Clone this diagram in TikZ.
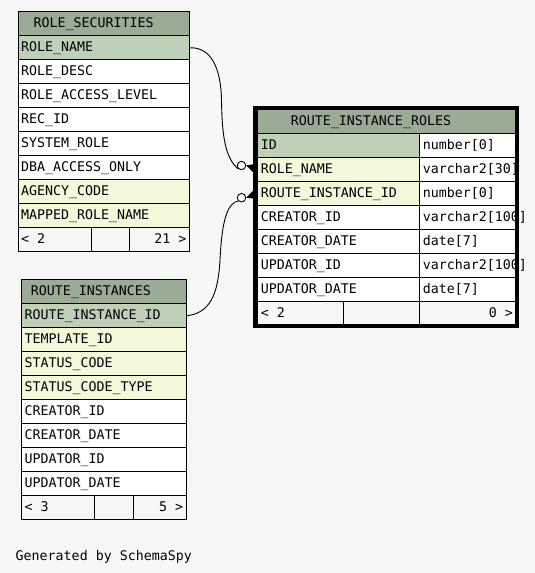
\documentclass[tikz,border=0pt]{standalone}
\usepackage{fontspec}
\newfontfamily\dbfontfam{DejaVu Sans Mono}
\definecolor{hdr}{HTML}{9BAB96}
\definecolor{pk}{HTML}{BED1B8}
\definecolor{fk}{HTML}{F4F7DA}
\definecolor{bgc}{HTML}{F7F7F7}
\tikzset{
  cell/.style={draw=black, line width=1pt, anchor=north west, inner xsep=3pt, inner ysep=0pt,
    minimum height=24pt, text height=9.7pt, text depth=1.7pt,
    font=\dbfontfam\fontsize{13.3pt}{15pt}\selectfont},
  link/.style={draw=black, line width=0.9pt},
  ring/.style={circle, draw=black, line width=0.9pt, fill=white, minimum size=8.5pt, inner sep=0pt},
}
\newcommand{\dbcell}[7]{%
  \node[cell, fill=#5, minimum width=#4pt] (#1) at (#2,#3) {\makebox[\dimexpr #4pt-6pt\relax][#7]{#6}};}
\begin{document}
\begin{tikzpicture}[x=1pt,y=-1pt]
\useasboundingbox[fill=bgc] (0,0) rectangle (535,573);

% ROLE_SECURITIES
\dbcell{rs-h}{17.5}{11.3}{171.5}{hdr}{\hspace*{12.5pt}ROLE\_SECURITIES}{l}
\dbcell{rs-name}{17.5}{35.3}{171.5}{pk}{ROLE\_NAME}{l}
\dbcell{rs-desc}{17.5}{59.3}{171.5}{white}{ROLE\_DESC}{l}
\dbcell{rs-lvl}{17.5}{83.3}{171.5}{white}{ROLE\_ACCESS\_LEVEL}{l}
\dbcell{rs-rec}{17.5}{107.3}{171.5}{white}{REC\_ID}{l}
\dbcell{rs-sys}{17.5}{131.3}{171.5}{white}{SYSTEM\_ROLE}{l}
\dbcell{rs-dba}{17.5}{155.3}{171.5}{white}{DBA\_ACCESS\_ONLY}{l}
\dbcell{rs-ag}{17.5}{179.3}{171.5}{fk}{AGENCY\_CODE}{l}
\dbcell{rs-map}{17.5}{203.3}{171.5}{fk}{MAPPED\_ROLE\_NAME}{l}
\dbcell{rs-f1}{17.5}{227.3}{73.2}{bgc}{< 2}{l}
\dbcell{rs-f2}{90.7}{227.3}{38.6}{bgc}{}{l}
\dbcell{rs-f3}{129.3}{227.3}{59.7}{bgc}{21 >}{r}

% ROUTE_INSTANCES
\dbcell{ri-h}{21}{279.3}{164.7}{hdr}{\hspace*{6.4pt}ROUTE\_INSTANCES}{l}
\dbcell{ri-id}{21}{303.3}{164.7}{pk}{ROUTE\_INSTANCE\_ID}{l}
\dbcell{ri-tpl}{21}{327.3}{164.7}{fk}{TEMPLATE\_ID}{l}
\dbcell{ri-sc}{21}{351.3}{164.7}{fk}{STATUS\_CODE}{l}
\dbcell{ri-sct}{21}{375.3}{164.7}{fk}{STATUS\_CODE\_TYPE}{l}
\dbcell{ri-cid}{21}{399.3}{164.7}{white}{CREATOR\_ID}{l}
\dbcell{ri-cdt}{21}{423.3}{164.7}{white}{CREATOR\_DATE}{l}
\dbcell{ri-uid}{21}{447.3}{164.7}{white}{UPDATOR\_ID}{l}
\dbcell{ri-udt}{21}{471.3}{164.7}{white}{UPDATOR\_DATE}{l}
\dbcell{ri-f1}{21}{495.3}{73.3}{bgc}{< 3}{l}
\dbcell{ri-f2}{94.3}{495.3}{39}{bgc}{}{l}
\dbcell{ri-f3}{133.3}{495.3}{52.4}{bgc}{5 >}{r}

% ROUTE_INSTANCE_ROLES
\dbcell{rir-h}{257.3}{109.3}{258}{hdr}{\hspace*{30.1pt}ROUTE\_INSTANCE\_ROLES}{l}
\dbcell{rir-id}{257.3}{133.3}{162}{pk}{ID}{l}
\dbcell{rir-idt}{419.3}{133.3}{96}{white}{number[0]}{l}
\dbcell{rir-rn}{257.3}{157.3}{162}{fk}{ROLE\_NAME}{l}
\dbcell{rir-rnt}{419.3}{157.3}{96}{white}{varchar2[30]}{l}
\dbcell{rir-ri}{257.3}{181.3}{162}{fk}{ROUTE\_INSTANCE\_ID}{l}
\dbcell{rir-rit}{419.3}{181.3}{96}{white}{number[0]}{l}
\dbcell{rir-cid}{257.3}{205.3}{162}{white}{CREATOR\_ID}{l}
\dbcell{rir-cidt}{419.3}{205.3}{96}{white}{varchar2[100]}{l}
\dbcell{rir-cdt}{257.3}{229.3}{162}{white}{CREATOR\_DATE}{l}
\dbcell{rir-cdtt}{419.3}{229.3}{96}{white}{date[7]}{l}
\dbcell{rir-uid}{257.3}{253.3}{162}{white}{UPDATOR\_ID}{l}
\dbcell{rir-uidt}{419.3}{253.3}{96}{white}{varchar2[100]}{l}
\dbcell{rir-udt}{257.3}{277.3}{162}{white}{UPDATOR\_DATE}{l}
\dbcell{rir-udtt}{419.3}{277.3}{96}{white}{date[7]}{l}
\dbcell{rir-f1}{257.3}{301.3}{86}{bgc}{< 2}{l}
\dbcell{rir-f2}{343.3}{301.3}{76}{bgc}{}{l}
\dbcell{rir-f3}{419.3}{301.3}{96}{bgc}{0 >}{r}

% connectors
\node[ring] (o1) at (241.5,165.5) {};
\node[ring] (o2) at (241.5,197.7) {};
\coordinate (e1) at (253.3,168.3);
\coordinate (e2) at (253.3,194.5);
\draw[link] (rs-name.east) .. controls (212,47) and (221,70) .. (221.5,100)
  .. controls (222,135) and (225,158) .. (o1.south west);
\draw[link] (ri-id.east) .. controls (210,313) and (218,295) .. (220,260)
  .. controls (222,218) and (228,203) .. (o2.south west);
\fill (o1.east) -- ([yshift=4pt]e1) -- ([yshift=-4pt]e1) -- cycle;
\fill (o2.east) -- ([yshift=4pt]e2) -- ([yshift=-4pt]e2) -- cycle;

% thick frame of the focused table
\draw[line width=4pt] (255.3,108) rectangle (517.3,326.3);

\node[anchor=base west, inner sep=0pt, font=\dbfontfam\fontsize{13.3pt}{15pt}\selectfont] (gen) at (15.5,560) {Generated by SchemaSpy};
\end{tikzpicture}
\end{document}
